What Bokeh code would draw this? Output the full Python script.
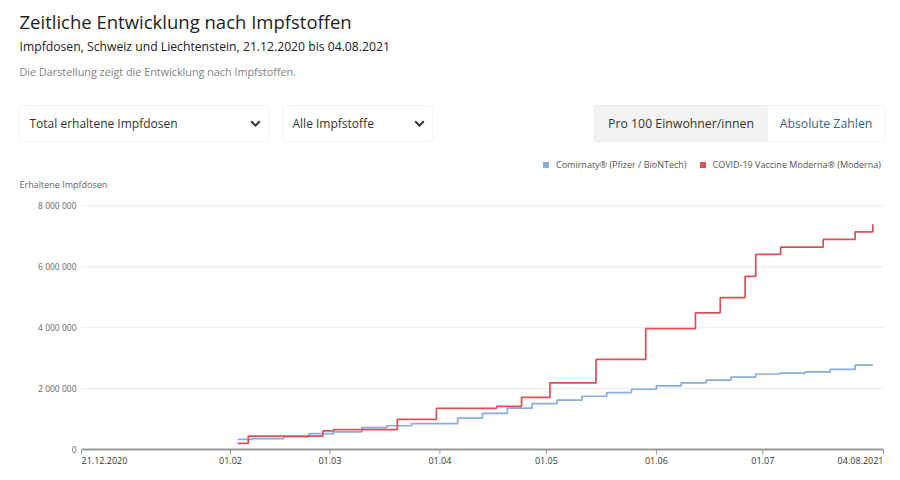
import math
import pandas as pd
from bokeh.plotting import figure
from bokeh.models import (Range1d, Label, BoxAnnotation, PolyAnnotation,
                          Legend, LegendItem, ColumnDataSource)
from bokeh.core.properties import value
from bokeh.embed import file_html
from bokeh.resources import INLINE

# ---------------- data ----------------
pfizer_dates = ["2021-02-03", "2021-02-07", "2021-02-16", "2021-02-23", "2021-03-02",
                "2021-03-10", "2021-03-17", "2021-03-24", "2021-04-06", "2021-04-13",
                "2021-04-20", "2021-04-27", "2021-05-04", "2021-05-11", "2021-05-18",
                "2021-05-25", "2021-06-01", "2021-06-08", "2021-06-15", "2021-06-22",
                "2021-06-29", "2021-07-06", "2021-07-13", "2021-07-20", "2021-07-27",
                "2021-08-01"]
pfizer_doses = [330000, 360000, 410000, 520000, 580000,
                720000, 780000, 850000, 1030000, 1190000,
                1360000, 1510000, 1620000, 1750000, 1870000,
                1980000, 2090000, 2190000, 2280000, 2380000,
                2480000, 2510000, 2550000, 2630000, 2770000,
                2770000]

moderna_dates = ["2021-02-03", "2021-02-06", "2021-02-27", "2021-03-02", "2021-03-20",
                 "2021-03-31", "2021-04-17", "2021-04-24", "2021-05-02", "2021-05-15",
                 "2021-05-29", "2021-06-12", "2021-06-19", "2021-06-26", "2021-06-29",
                 "2021-07-06", "2021-07-18", "2021-07-27", "2021-08-01"]
moderna_doses = [200000, 440000, 610000, 650000, 990000,
                 1350000, 1420000, 1710000, 2190000, 2960000,
                 3970000, 4490000, 4990000, 5690000, 6410000,
                 6650000, 6900000, 7150000, 7400000]

series_names = ["Comirnaty® (Pfizer / BioNTech)", "COVID-19 Vaccine Moderna® (Moderna)"]

x_tick_dates = ["2020-12-21", "2021-02-01", "2021-03-01", "2021-04-01", "2021-05-01",
                "2021-06-01", "2021-07-01", "2021-08-04"]
x_tick_labels = ["21.12.2020", "01.02", "01.03", "01.04", "01.05", "01.06", "01.07", "04.08.2021"]
y_ticks = [0, 2000000, 4000000, 6000000, 8000000]
y_tick_labels = ["0", "2 000 000", "4 000 000", "6 000 000", "8 000 000"]

title_text = "Zeitliche Entwicklung nach Impfstoffen"
subtitle_text = "Impfdosen, Schweiz und Liechtenstein, 21.12.2020 bis 04.08.2021"
desc_text = "Die Darstellung zeigt die Entwicklung nach Impfstoffen."
dropdown_texts = ["Total erhaltene Impfdosen", "Alle Impfstoffe"]
toggle_texts = ["Pro 100 Einwohner/innen", "Absolute Zahlen"]
y_axis_title = "Erhaltene Impfdosen"

# ---------------- style / geometry ----------------
FONT = "Open Sans"
BLUE = "#89acd8"
RED = "#dd4f57"
W, H = 900, 480
PLOT_L, PLOT_R, PLOT_T, PLOT_B = 81, 883, 200, 449   # chart area in page pixels
X_START, X_END = pd.Timestamp(x_tick_dates[0]), pd.Timestamp(x_tick_dates[-1])
Y_MAX = 8.18e6

# one canvas; page-pixel ranges for the header, extra ranges for the chart
p = figure(frame_width=W, frame_height=H, x_range=Range1d(0, W), y_range=Range1d(H, 0),
           title=None, output_backend="svg", toolbar_location=None,
           x_axis_location=None, y_axis_location=None,
           min_border=0, min_border_left=0, min_border_right=0,
           min_border_top=0, min_border_bottom=0)
p.outline_line_color = None
p.xgrid.visible = False
p.ygrid.visible = False

days_total = (X_END - X_START) / pd.Timedelta(days=1)
px_per_day = (PLOT_R - PLOT_L) / days_total
date_lo = X_START - pd.Timedelta(days=PLOT_L / px_per_day)
date_hi = X_END + pd.Timedelta(days=(W - PLOT_R) / px_per_day)
px_per_unit = (PLOT_B - PLOT_T) / Y_MAX
val_lo = -(H - PLOT_B) / px_per_unit
val_hi = PLOT_B / px_per_unit
p.extra_x_ranges = {"date": Range1d(date_lo, date_hi)}
p.extra_y_ranges = {"doses": Range1d(val_lo, val_hi)}
C = dict(x_range_name="date", y_range_name="doses")

# ---------------- header ----------------
def box(l, r, t, b, fill="white", line="#d6d6d6", radius=3):
    p.add_layout(BoxAnnotation(left=l, right=r, top=t, bottom=b,
                               fill_color=fill, fill_alpha=1.0,
                               line_color=line, line_width=1, border_radius=radius))


box(19, 268, 105, 141)
box(282, 432, 105, 141)
box(594, 884, 105, 141)
box(594, 767, 105, 141, fill="#f3f3f3", radius=(3, 0, 0, 3))


def chevron(cx, cy):
    pts = [(-5, -1.5), (-3.6, -2.9), (0, 0.7), (3.6, -2.9), (5, -1.5), (0, 3.5)]
    p.add_layout(PolyAnnotation(xs=[cx + a for a, b in pts], ys=[cy + b for a, b in pts],
                                fill_color="#333333", fill_alpha=1, line_color=None))


chevron(255, 123)
chevron(419, 123)


def label(x, y, text, size, color, align="left"):
    p.add_layout(Label(x=x, y=y, text=text, text_font=FONT, text_font_size=size,
                       text_color=color, text_align=align, text_baseline="middle"))


label(19, 21, title_text, "18.5px", "#1e1e1e")
label(19, 46, subtitle_text, "12.2px", "#222222")
label(19, 71, desc_text, "10.8px", "#808080")
label(29, 123, dropdown_texts[0], "12px", "#333333")
label(292, 123, dropdown_texts[1], "12px", "#333333")
label(680.5, 123, toggle_texts[0], "12.3px", "#333333", align="center")
label(825.5, 123, toggle_texts[1], "12.3px", "#2a6a8a", align="center")
label(19, 184, y_axis_title, "9px", "#666666")

# ---------------- chart: grid, axis ----------------
grid_src = ColumnDataSource(dict(x0=[X_START] * (len(y_ticks) - 1), x1=[X_END] * (len(y_ticks) - 1),
                                 y=y_ticks[1:]))
p.segment(x0="x0", x1="x1", y0="y", y1="y", source=grid_src,
          line_color="#e8e8e8", line_width=1, **C)

ylab_src = ColumnDataSource(dict(x=[X_START] * len(y_ticks), y=y_ticks, lab=y_tick_labels))
p.text(x="x", y="y", text="lab", source=ylab_src, x_offset=-5, text_align="right",
       text_baseline="middle", text_font=value(FONT), text_font_size="8.5px",
       text_color="#666666", **C)

# ---------------- series ----------------
src_p = ColumnDataSource(dict(date=pd.to_datetime(pfizer_dates), doses=pfizer_doses))
src_m = ColumnDataSource(dict(date=pd.to_datetime(moderna_dates), doses=moderna_doses))
p.step(x="date", y="doses", source=src_p, mode="after", line_color=BLUE, line_width=1.7, **C)
p.step(x="date", y="doses", source=src_m, mode="after", line_color=RED, line_width=1.7, **C)

# x axis line, ticks, labels
axis_src = ColumnDataSource(dict(x0=[X_START], x1=[X_END], y=[0]))
p.segment(x0="x0", x1="x1", y0="y", y1="y", source=axis_src,
          line_color="#999999", line_width=2, **C)
n = len(x_tick_labels)
aligns = ["left"] + ["center"] * (n - 2) + ["right"]
tick_src = ColumnDataSource(dict(date=pd.to_datetime(x_tick_dates), y=[0] * n,
                                 lab=x_tick_labels, align=aligns))
p.ray(x="date", y="y", source=tick_src, length=5, length_units="screen",
      angle=-math.pi / 2, line_color="#999999", line_width=1, **C)
p.text(x="date", y="y", text="lab", source=tick_src, y_offset=11, text_align="align",
       text_baseline="middle", text_font=value(FONT), text_font_size="9px",
       text_color="#333333", **C)

# legend swatches: square markers of zero size on the chart, drawn full size in the legend
sw_p = p.scatter(x="date", y="doses", source=src_p, marker="square", size=0,
                 fill_color=BLUE, line_color=None, **C)
sw_m = p.scatter(x="date", y="doses", source=src_m, marker="square", size=0,
                 fill_color=RED, line_color=None, **C)
legend = Legend(items=[LegendItem(label=series_names[0], renderers=[sw_p]),
                       LegendItem(label=series_names[1], renderers=[sw_m])],
                orientation="horizontal", location=(538, H - 171.5),
                glyph_width=15, glyph_height=15, label_height=12, label_standoff=3,
                spacing=8, padding=0, margin=0, border_line_color=None,
                background_fill_alpha=0, label_text_font=FONT,
                label_text_font_size="9px", label_text_color="#555555")
p.add_layout(legend)

open("out.html", "w").write(file_html(p, INLINE))
